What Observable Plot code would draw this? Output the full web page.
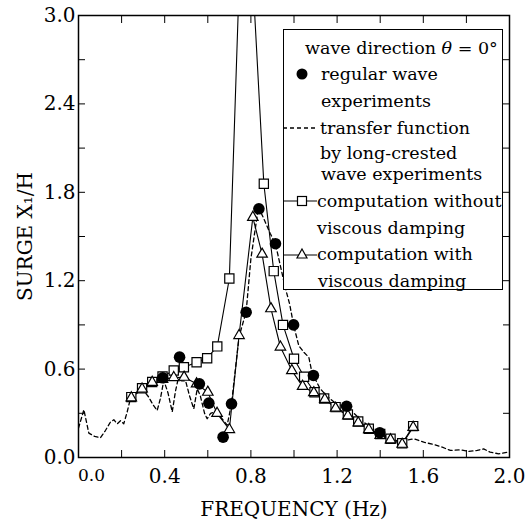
<!DOCTYPE html>
<html><head><meta charset="utf-8">
<script src="https://cdn.jsdelivr.net/npm/d3@7"></script>
<script src="https://cdn.jsdelivr.net/npm/@observablehq/plot@0.6"></script>
<style>
body{margin:0;background:#fff;}
#wrap{position:relative;width:532px;height:523px;}
#legend{position:absolute;left:283px;top:29px;width:218px;height:259px;border:1.5px solid #000;background:#fff;font-family:"DejaVu Serif",serif;font-size:17.5px;color:#000;}
.row{position:absolute;white-space:nowrap;height:22px;line-height:22px;}
.sym{position:absolute;}
</style></head><body><div id="wrap"><div id="legend"></div></div>
<script>
// Computation without viscous damping (squares)
const freqSquare = [0.245,0.295,0.342,0.39,0.442,0.489,0.548,0.597,0.644,0.70,0.77,0.86,0.906,0.949,1.0,1.047,1.095,1.14,1.193,1.25,1.298,1.347,1.40,1.448,1.502,1.553];
const surgeSquare = [0.41,0.47,0.513,0.55,0.59,0.613,0.647,0.674,0.754,1.215,4.3,1.858,1.265,0.90,0.67,0.548,0.443,0.40,0.342,0.292,0.244,0.195,0.16,0.127,0.097,0.213];
// Computation with viscous damping (triangles)
const freqTri = [0.245,0.295,0.342,0.39,0.442,0.49,0.548,0.60,0.643,0.70,0.745,0.809,0.852,0.893,0.937,0.99,1.04,1.092,1.143,1.193,1.25,1.298,1.347,1.40,1.448,1.502,1.553];
const surgeTri = [0.405,0.465,0.51,0.53,0.543,0.545,0.50,0.443,0.30,0.19,0.828,1.63,1.38,1.01,0.75,0.59,0.483,0.44,0.395,0.335,0.283,0.235,0.19,0.15,0.12,0.09,0.205];
// Regular wave experiments (filled dots)
const freqDot = [0.391,0.469,0.561,0.605,0.671,0.71,0.778,0.837,0.914,0.998,1.09,1.244,1.398];
const surgeDot = [0.541,0.681,0.50,0.369,0.138,0.364,0.986,1.688,1.451,0.90,0.557,0.348,0.168];
// Transfer function by long-crested wave experiments (dashed)
const freqTF = [0,0.025,0.048,0.075,0.102,0.125,0.148,0.164,0.18,0.195,0.21,0.226,0.241,0.27,0.296,0.326,0.345,0.365,0.38,0.396,0.415,0.435,0.45,0.462,0.48,0.497,0.515,0.535,0.551,0.565,0.585,0.597,0.613,0.628,0.645,0.66,0.69,0.71,0.745,0.778,0.80,0.835,0.86,0.89,0.914,0.94,0.96,0.98,0.998,1.022,1.045,1.069,1.08,1.09,1.12,1.15,1.2,1.244,1.3,1.35,1.398,1.45,1.50,1.53,1.556,1.602,1.649,1.688,1.726,1.773,1.81,1.85,1.88,1.91,1.95,1.99];
const surgeTF = [0.20,0.324,0.165,0.143,0.134,0.183,0.24,0.256,0.229,0.25,0.229,0.31,0.40,0.44,0.466,0.41,0.36,0.319,0.40,0.523,0.44,0.31,0.45,0.53,0.52,0.52,0.42,0.33,0.466,0.42,0.30,0.263,0.30,0.308,0.28,0.274,0.22,0.364,0.82,0.99,1.35,1.70,1.62,1.52,1.45,1.28,1.15,1.04,0.90,0.76,0.715,0.68,0.60,0.557,0.47,0.42,0.36,0.348,0.27,0.21,0.168,0.13,0.10,0.12,0.127,0.104,0.088,0.07,0.048,0.052,0.041,0.048,0.059,0.036,0.025,0.036];
// Ticks
const xMinorTicks = [0,0.2,0.4,0.6,0.8,1.0,1.2,1.4,1.6,1.8,2.0];
const xLabelTicks = [0.4,0.8,1.2,1.6,2.0];
const yMinorTicks = [0,0.3,0.6,0.9,1.2,1.5,1.8,2.1,2.4,2.7,3.0];
const yLabelTicks = [0,0.6,1.2,1.8,2.4,3.0];

const sq = freqSquare.map((f,i)=>({f, s: surgeSquare[i]}));
const tri = freqTri.map((f,i)=>({f, s: surgeTri[i]}));
const dots = freqDot.map((f,i)=>({f, s: surgeDot[i]}));
const tf = freqTF.map((f,i)=>({f, s: surgeTF[i]}));
const fmt = d3.format(".1f");

const chart = Plot.plot({
  width: 532, height: 523,
  marginLeft: 78, marginRight: 23, marginTop: 15, marginBottom: 66,
  style: {fontFamily: "'DejaVu Serif', serif", fontSize: "17px", color: "black", background: "white", overflow: "visible"},
  x: {domain: [0, 2]},
  y: {domain: [0, 3]},
  marks: [
    Plot.axisX(xMinorTicks, {anchor: "bottom", tickSize: -7, tickFormat: () => "", label: null}),
    Plot.axisX(xMinorTicks, {anchor: "top", tickSize: -7, tickFormat: () => "", label: null}),
    Plot.axisY(yMinorTicks, {anchor: "left", tickSize: -7, tickFormat: () => "", label: null}),
    Plot.axisY(yMinorTicks, {anchor: "right", tickSize: -7, tickFormat: () => "", label: null}),
    Plot.axisX([0], {anchor: "bottom", tickSize: 0, tickPadding: 11, dx: 13, tickFormat: fmt, label: null}),
    Plot.axisX(xLabelTicks, {anchor: "bottom", tickSize: 0, tickPadding: 11, tickFormat: fmt, label: "FREQUENCY (Hz)", labelAnchor: "center", labelArrow: "none", labelOffset: 58, fontSize: 20}),
    Plot.axisY(yLabelTicks, {anchor: "left", tickSize: 0, tickPadding: 3, tickFormat: fmt, label: "SURGE X₁/H", labelAnchor: "center", labelArrow: "none", labelOffset: 61, fontSize: 20}),
    Plot.frame({stroke: "black", strokeWidth: 1.5}),
    Plot.line(tf, {x: "f", y: "s", stroke: "black", strokeWidth: 1.3, strokeDasharray: "4,3", clip: true}),
    Plot.line(sq, {x: "f", y: "s", stroke: "black", strokeWidth: 1.1, clip: true}),
    Plot.line(tri, {x: "f", y: "s", stroke: "black", strokeWidth: 1.1, clip: true}),
    Plot.dot(sq, {x: "f", y: "s", symbol: "square", r: 5.2, fill: "white", stroke: "black", strokeWidth: 1.2, clip: true}),
    Plot.dot(tri, {x: "f", y: "s", symbol: "triangle", r: 3.9, fill: "white", stroke: "black", strokeWidth: 1.2, clip: true}),
    Plot.dot(dots, {x: "f", y: "s", r: 5.8, fill: "black", clip: true})
  ]
});
document.getElementById("wrap").insertBefore(chart, document.getElementById("legend"));

// Legend
const legend = document.getElementById("legend");
const rows = [
  {x: 21, y: 17.7, html: 'wave direction <i>θ</i> = 0°'},
  {x: 37, y: 43.7, text: 'regular wave'},
  {x: 37, y: 71, text: 'experiments'},
  {x: 36, y: 97.7, text: 'transfer function'},
  {x: 36, y: 122.7, text: 'by long-crested'},
  {x: 37, y: 144.3, text: 'wave experiments'},
  {x: 33, y: 171, text: 'computation without'},
  {x: 33, y: 197.7, text: 'viscous damping'},
  {x: 33, y: 224.3, text: 'computation with'},
  {x: 34, y: 251, text: 'viscous damping'}
];
for (const r of rows) {
  const d = document.createElement("div");
  d.className = "row";
  d.style.left = r.x + "px";
  d.style.top = (r.y - 11) + "px";
  if (r.html) d.innerHTML = r.html; else d.textContent = r.text;
  legend.appendChild(d);
}
function sym(y, inner) {
  const s = document.createElementNS("http://www.w3.org/2000/svg", "svg");
  s.setAttribute("width", 36); s.setAttribute("height", 16);
  s.setAttribute("class", "sym");
  s.style.left = "-1px"; s.style.top = (y - 8) + "px";
  s.innerHTML = inner;
  legend.appendChild(s);
}
sym(43.7, '<circle cx="19" cy="8" r="5.5" fill="black"/>');
sym(97.7, '<line x1="0" y1="8" x2="34" y2="8" stroke="black" stroke-width="1.3" stroke-dasharray="4,3"/>');
sym(171, '<line x1="0" y1="8" x2="34" y2="8" stroke="black" stroke-width="1.1"/><rect x="14.5" y="3.5" width="9" height="9" fill="white" stroke="black" stroke-width="1.2"/>');
sym(224.3, '<line x1="0" y1="9" x2="34" y2="9" stroke="black" stroke-width="1.1"/><path d="M19,3 L24,12 L14,12 Z" fill="white" stroke="black" stroke-width="1.2"/>');
</script>
</body></html>
